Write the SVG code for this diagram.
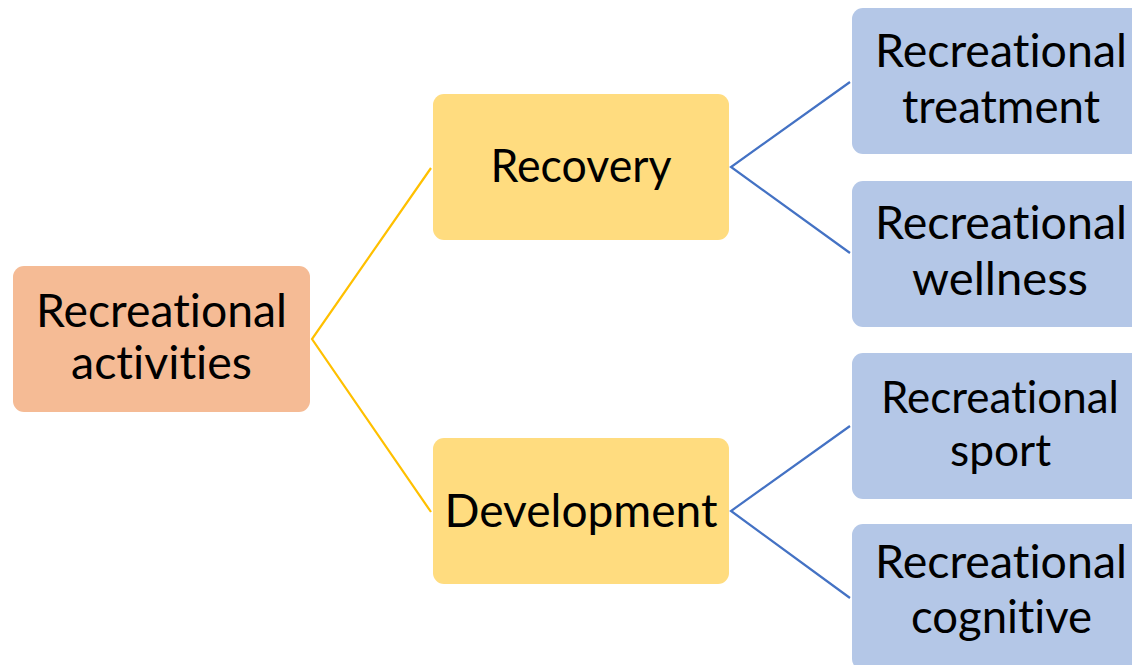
<svg xmlns="http://www.w3.org/2000/svg" width="1132" height="665" viewBox="0 0 1132 665">
<style>
.t{font-family:Lato,"Open Sans","Noto Sans",sans-serif;font-size:47px;fill:#000;text-anchor:middle;font-variant-ligatures:none;font-feature-settings:"liga" 0,"clig" 0,"dlig" 0,"calt" 0}
.s{font-size:44px}
.root{fill:#F5BB95}
.mid{fill:#FFDC7F}
.leaf{fill:#B4C7E7}
.y{stroke:#FFC000;stroke-width:2.2;fill:none}
.b{stroke:#4472C4;stroke-width:2.2;fill:none}
</style>
<rect width="1132" height="665" fill="#fff"/>
<g id="connectors">
<path class="y" d="M431,168 L312,339 L431,512"/>
<path class="b" d="M850,82 L731,167 L850,253"/>
<path class="b" d="M850,426 L731,511 L850,598"/>
</g>
<g id="root">
<rect class="root" x="13" y="266" width="297" height="146" rx="11"/>
<text class="t" x="161.5" y="327" textLength="251" lengthAdjust="spacingAndGlyphs">Recreational</text>
<text class="t" x="161.5" y="379" textLength="181" lengthAdjust="spacingAndGlyphs">activities</text>
</g>
<g id="recovery">
<rect class="mid" x="433" y="94" width="296" height="146" rx="11"/>
<text class="t" x="581" y="182" textLength="181" lengthAdjust="spacingAndGlyphs">Recovery</text>
</g>
<g id="development">
<rect class="mid" x="433" y="438" width="296" height="146" rx="11"/>
<text class="t" x="581" y="527" textLength="273" lengthAdjust="spacingAndGlyphs">Development</text>
</g>
<g id="treatment">
<rect class="leaf" x="852" y="8" width="296" height="146" rx="11"/>
<text class="t" x="1001" y="67" textLength="252" lengthAdjust="spacingAndGlyphs">Recreational</text>
<text class="t" x="1001" y="123" textLength="198" lengthAdjust="spacingAndGlyphs">treatment</text>
</g>
<g id="wellness">
<rect class="leaf" x="852" y="181" width="296" height="146" rx="11"/>
<text class="t" x="1001" y="239" textLength="252" lengthAdjust="spacingAndGlyphs">Recreational</text>
<text class="t" x="1000" y="295" textLength="176" lengthAdjust="spacingAndGlyphs">wellness</text>
</g>
<g id="sport">
<rect class="leaf" x="852" y="353" width="296" height="146" rx="11"/>
<text class="t s" x="1000" y="413" textLength="238" lengthAdjust="spacingAndGlyphs">Recreational</text>
<text class="t s" x="1000.5" y="466" textLength="101" lengthAdjust="spacingAndGlyphs">sport</text>
</g>
<g id="cognitive">
<rect class="leaf" x="852" y="524" width="296" height="146" rx="11"/>
<text class="t" x="1001" y="578" textLength="252" lengthAdjust="spacingAndGlyphs">Recreational</text>
<text class="t" x="1001.5" y="633" textLength="181" lengthAdjust="spacingAndGlyphs">cognitive</text>
</g>
</svg>
